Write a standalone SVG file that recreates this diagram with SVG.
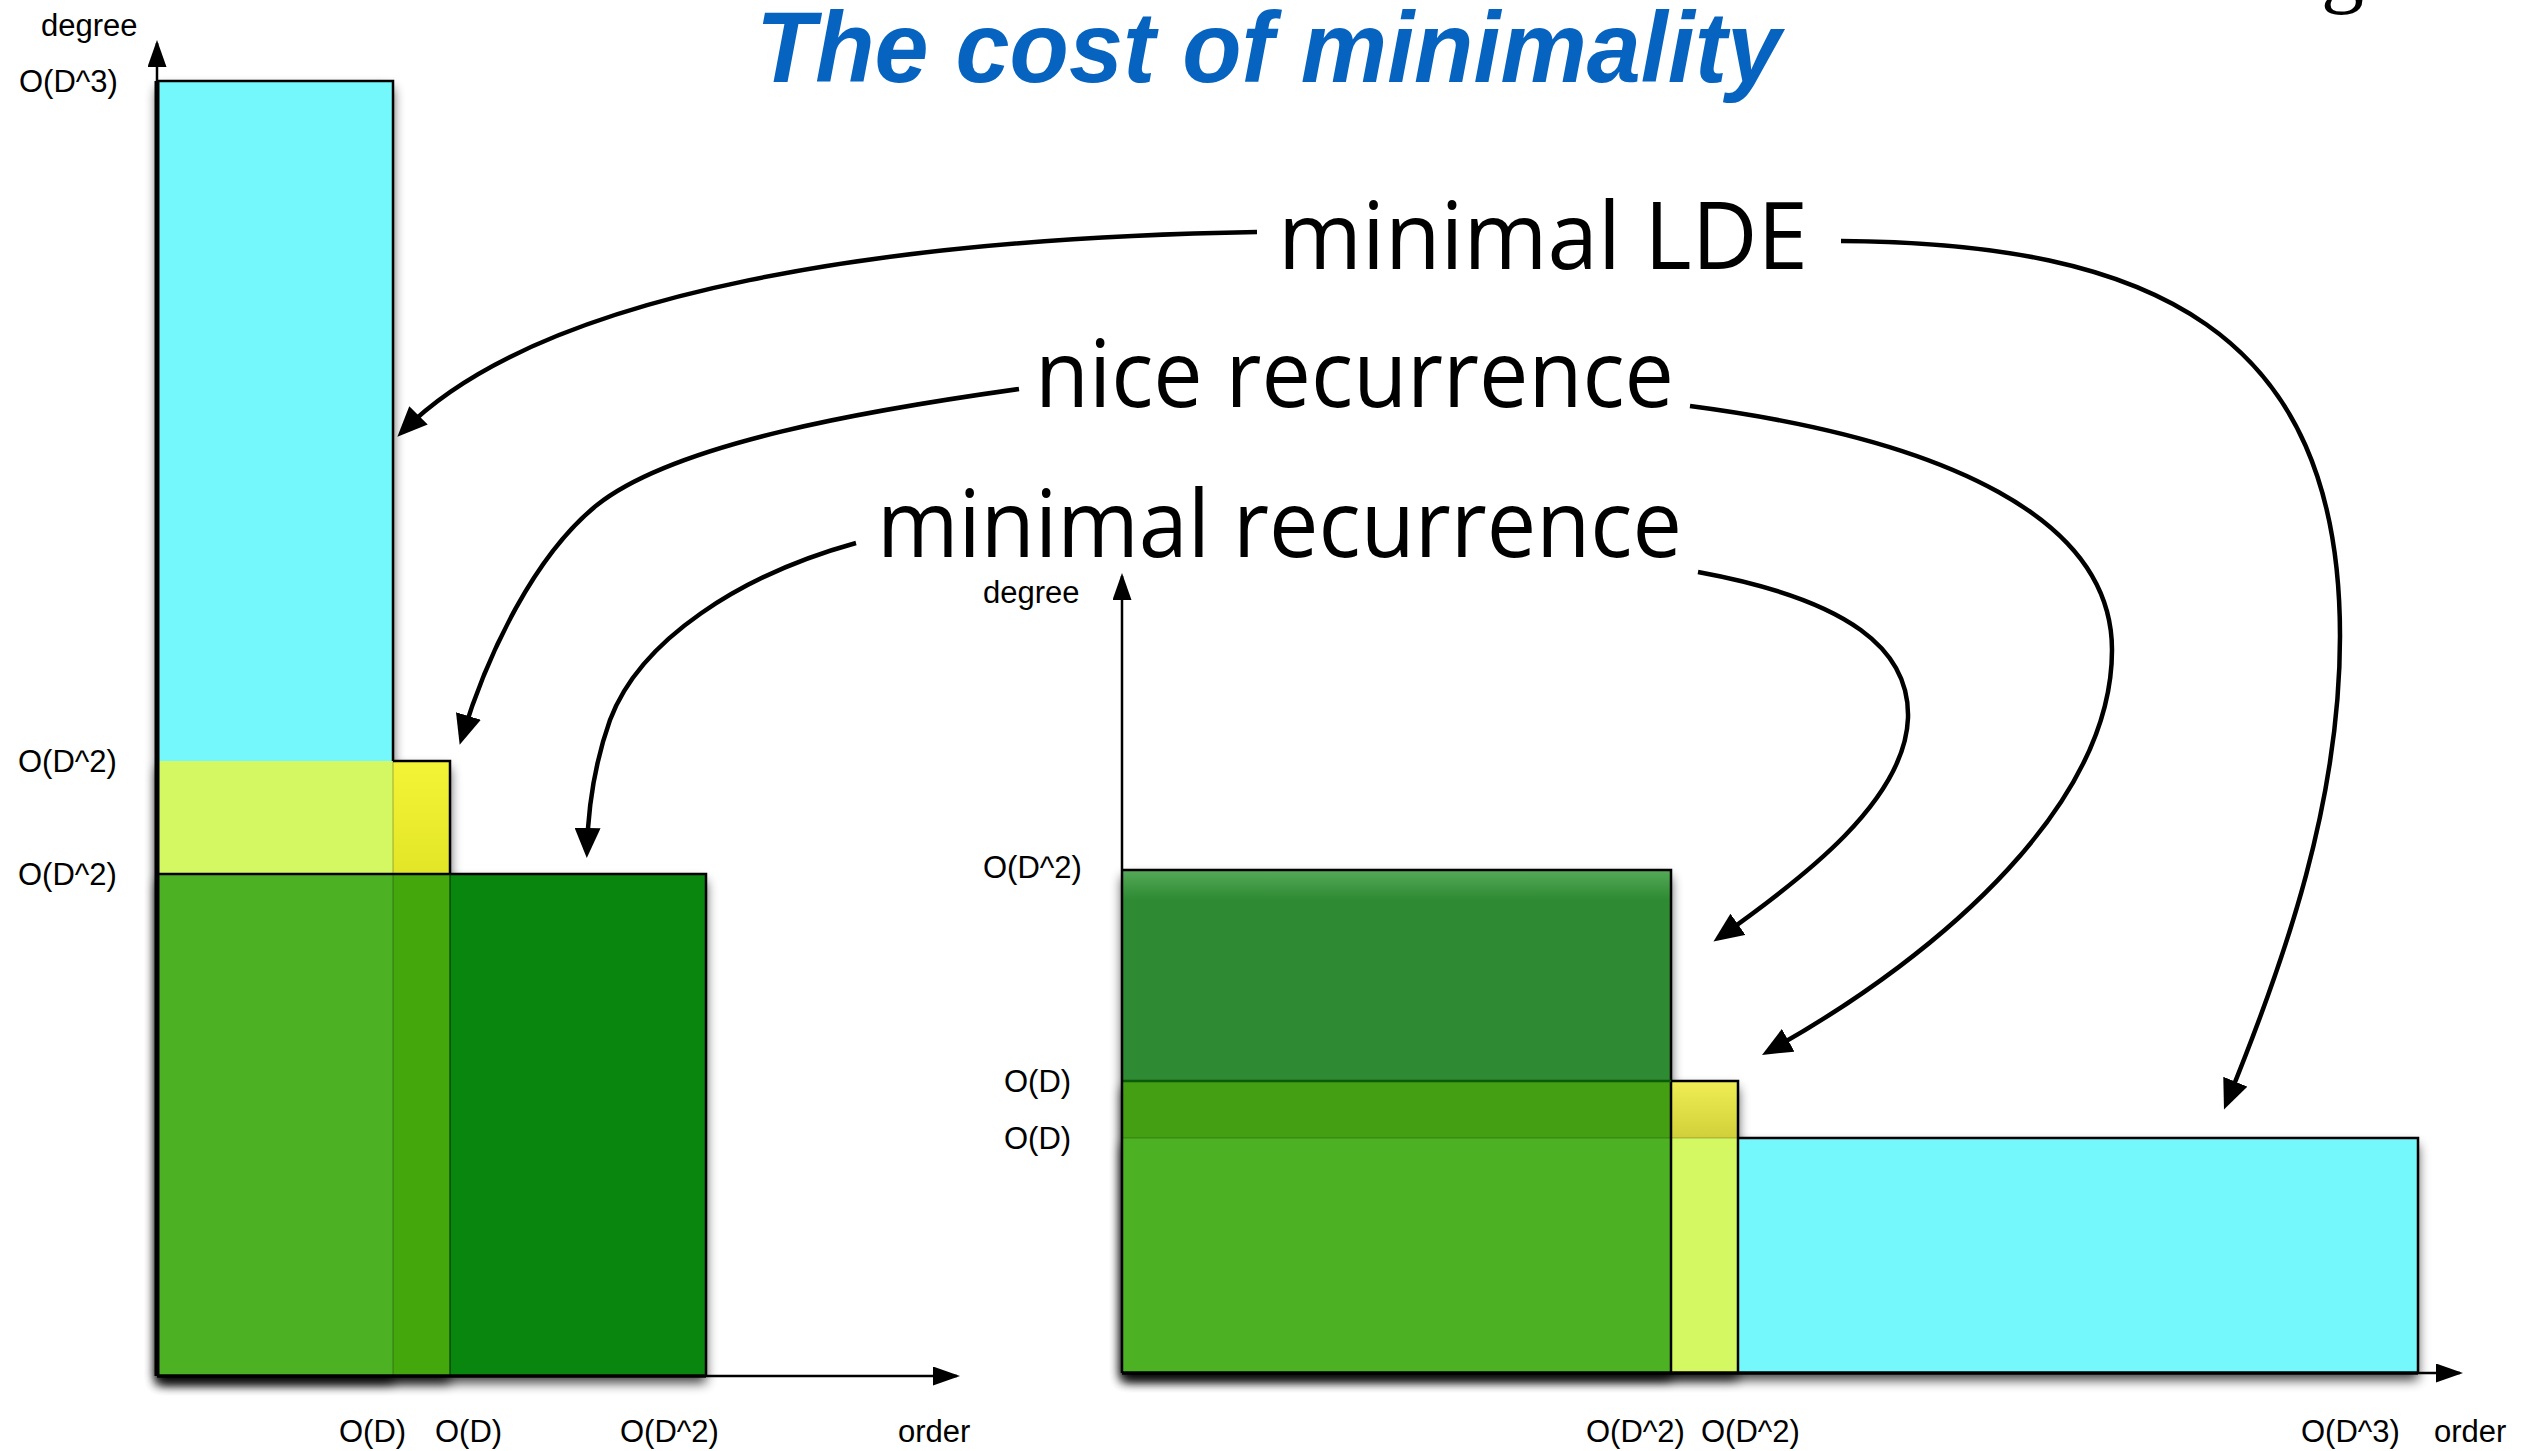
<svg xmlns="http://www.w3.org/2000/svg" width="2539" height="1451" viewBox="0 0 2539 1451">
  <style>
    .lbl { font-family: "Liberation Sans", Arial, Helvetica, sans-serif; font-size: 31px; fill: #000; }
    .big { font-family: "Open Sans", "Liberation Sans", sans-serif; font-size: 94px; fill: #000; }
    .title { font-family: "Liberation Sans", Arial, sans-serif; font-size: 100px; font-weight: bold; font-style: italic; fill: #0664c0; }
    .edge { fill: none; stroke: #000; stroke-width: 2.5; }
    .axis { fill: none; stroke: #000; stroke-width: 2.5; }
    .conn { fill: none; stroke: #000; stroke-width: 4.5; }
    .shadow { fill: #000; filter: url(#drop); }
  </style>
  <defs>
    <filter id="drop" x="-20%" y="-20%" width="140%" height="140%">
      <feGaussianBlur in="SourceAlpha" stdDeviation="6"/>
      <feOffset dy="7"/>
      <feComponentTransfer><feFuncA type="linear" slope="0.75"/></feComponentTransfer>
    </filter>
    <marker id="head" markerUnits="userSpaceOnUse" markerWidth="30" markerHeight="26" viewBox="0 0 30 26" refX="22" refY="13" orient="auto">
      <path d="M0 0 L30 13 L0 26 Z" fill="#000"/>
    </marker>
    <marker id="axhead" markerUnits="userSpaceOnUse" markerWidth="27" markerHeight="19" viewBox="0 0 27 19" refX="24" refY="9.5" orient="auto">
      <path d="M0 0 L27 9.5 L0 19 Z" fill="#000"/>
    </marker>
    <linearGradient id="yelL" x1="0" y1="761" x2="0" y2="874" gradientUnits="userSpaceOnUse">
      <stop offset="0" stop-color="#f4f436"/>
      <stop offset="1" stop-color="#e2e626"/>
    </linearGradient>
    <linearGradient id="yelR" x1="0" y1="1081" x2="0" y2="1138" gradientUnits="userSpaceOnUse">
      <stop offset="0" stop-color="#f0ee54"/>
      <stop offset="1" stop-color="#d2d03a"/>
    </linearGradient>
    <linearGradient id="grnR" x1="0" y1="870" x2="0" y2="900" gradientUnits="userSpaceOnUse">
      <stop offset="0" stop-color="#55aa58"/>
      <stop offset="1" stop-color="#2e8a33"/>
    </linearGradient>
  </defs>

  <rect x="0" y="0" width="2539" height="1451" fill="#fff"/>

  <!-- descender of a heading line above the page edge -->
  <text x="2321" y="-4" font-family="Liberation Serif, Times New Roman, serif" font-size="86" fill="#000">g</text>

  <text id="title" class="title" x="756" y="82" textLength="1025" lengthAdjust="spacingAndGlyphs">The cost of minimality</text>

  <!-- left chart: degree vs order -->
  <g id="chart-left">
    <rect class="shadow" x="157" y="81" width="236" height="1295"/>
    <rect class="shadow" x="157" y="761" width="293" height="615"/>
    <rect class="shadow" x="157" y="874" width="549" height="502"/>

    <rect x="157" y="81" width="236" height="680" fill="#74f8fc"/>
    <rect x="157" y="761" width="236" height="113" fill="#d4f862"/>
    <rect x="393" y="761" width="57" height="113" fill="url(#yelL)"/>
    <rect x="157" y="874" width="236" height="502" fill="#4cb224"/>
    <rect x="393" y="874" width="57" height="502" fill="#44a80c"/>
    <rect x="450" y="874" width="256" height="502" fill="#08860e"/>

    <path class="edge" d="M157 81 H393 V761"/>
    <line x1="393" y1="761" x2="393" y2="1376" stroke="#000" stroke-opacity="0.15" stroke-width="2"/>
    <path class="edge" d="M393 761 H450 V874"/>
    <path class="edge" d="M157 874 H706 V1376"/>
    <line x1="450" y1="874" x2="450" y2="1376" stroke="#003000" stroke-opacity="0.55" stroke-width="2"/>
    <line x1="157" y1="1376" x2="706" y2="1376" stroke="#000" stroke-width="3.5"/>
    <line x1="157" y1="81" x2="157" y2="1376" stroke="#000" stroke-width="5"/>

    <path class="axis" d="M157 1376 V43" marker-end="url(#axhead)"/>
    <path class="axis" d="M706 1376 H957" marker-end="url(#axhead)"/>

    <text class="lbl" x="41" y="36">degree</text>
    <text class="lbl" x="19" y="92">O(D^3)</text>
    <text class="lbl" x="18" y="772">O(D^2)</text>
    <text class="lbl" x="18" y="885">O(D^2)</text>
    <text class="lbl" x="339" y="1442">O(D)</text>
    <text class="lbl" x="435" y="1442">O(D)</text>
    <text class="lbl" x="620" y="1442">O(D^2)</text>
    <text class="lbl" x="898" y="1442">order</text>
  </g>

  <!-- right chart: degree vs order -->
  <g id="chart-right">
    <rect class="shadow" x="1122" y="870" width="549" height="503"/>
    <rect class="shadow" x="1122" y="1081" width="616" height="292"/>
    <rect class="shadow" x="1122" y="1138" width="1296" height="235"/>

    <rect x="1122" y="870" width="549" height="211" fill="url(#grnR)"/>
    <rect x="1122" y="1081" width="549" height="57" fill="#44a012"/>
    <rect x="1122" y="1138" width="549" height="235" fill="#4cb224"/>
    <rect x="1671" y="1081" width="67" height="57" fill="url(#yelR)"/>
    <rect x="1671" y="1138" width="67" height="235" fill="#d4f862"/>
    <rect x="1738" y="1138" width="680" height="235" fill="#74f8fc"/>

    <path class="edge" d="M1122 870 H1671 V1373"/>
    <line x1="1122" y1="1081" x2="1671" y2="1081" stroke="#0a5a0a" stroke-width="2.5"/>
    <path class="edge" d="M1671 1081 H1738 V1373"/>
    <line x1="1122" y1="1138" x2="1738" y2="1138" stroke="#000" stroke-opacity="0.12" stroke-width="2"/>
    <path class="edge" d="M1738 1138 H2418 V1373"/>
    <line x1="1122" y1="1373" x2="2418" y2="1373" stroke="#000" stroke-width="3.5"/>

    <path class="axis" d="M1122 1373 V576" marker-end="url(#axhead)"/>
    <path class="axis" d="M2418 1373 H2460" marker-end="url(#axhead)"/>

    <text class="lbl" x="983" y="603">degree</text>
    <text class="lbl" x="983" y="878">O(D^2)</text>
    <text class="lbl" x="1004" y="1092">O(D)</text>
    <text class="lbl" x="1004" y="1149">O(D)</text>
    <text class="lbl" x="1586" y="1442">O(D^2)</text>
    <text class="lbl" x="1701" y="1442">O(D^2)</text>
    <text class="lbl" x="2301" y="1442">O(D^3)</text>
    <text class="lbl" x="2434" y="1442">order</text>
  </g>

  <g id="label-minimal-lde"><text class="big" x="1278" y="269" textLength="530" lengthAdjust="spacingAndGlyphs">minimal LDE</text></g>
  <g id="label-nice-recurrence"><text class="big" x="1035" y="407" textLength="639" lengthAdjust="spacingAndGlyphs">nice recurrence</text></g>
  <g id="label-minimal-recurrence"><text class="big" x="877" y="557" textLength="805" lengthAdjust="spacingAndGlyphs">minimal recurrence</text></g>

  <g id="connectors">
    <path class="conn" d="M1257 232 C900 238, 545 288, 403 431" marker-end="url(#head)"/>
    <path class="conn" d="M1019 389 C869 410, 675 443, 597 505 C535 555, 488 652, 462 737" marker-end="url(#head)"/>
    <path class="conn" d="M856 543 C740 575, 640 640, 610 720 C594 765, 588 810, 587 850" marker-end="url(#head)"/>
    <path class="conn" d="M1698 572 C1850 600, 1910 650, 1908 718 C1905 800, 1805 877, 1720 937" marker-end="url(#head)"/>
    <path class="conn" d="M1690 406 C1950 440, 2112 520, 2112 650 C2112 800, 1950 950, 1769 1051" marker-end="url(#head)"/>
    <path class="conn" d="M1841 241 C2150 243, 2340 330, 2340 636 C2340 800, 2287 955, 2227 1102" marker-end="url(#head)"/>
  </g>
</svg>
